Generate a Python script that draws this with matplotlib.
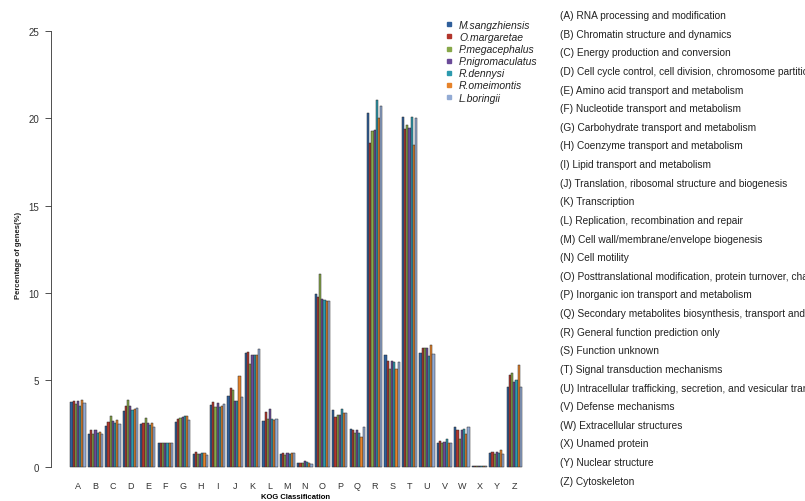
import matplotlib
matplotlib.use("Agg")
import matplotlib.pyplot as plt
from matplotlib.lines import Line2D
import numpy as np

plt.rcParams['font.family'] = ['Liberation Sans', 'DejaVu Sans']

categories = list("ABCDEFGHIJKLMNOPQRSTUVWXYZ")
species = ["M.sangzhiensis", "O.margaretae", "P.megacephalus", "P.nigromaculatus",
           "R.dennysi", "R.omeimontis", "L.boringii"]
colors = ["#2F5F9B", "#B2352C", "#87A849", "#6A4A98", "#2C9AAE", "#E6832A", "#93ABD4"]

# rows = categories A..Z, columns = species in legend order
values = [
    [3.75, 3.80, 3.60, 3.80, 3.50, 3.85, 3.70],  # A
    [1.90, 2.10, 1.90, 2.10, 1.95, 2.00, 1.90],  # B
    [2.35, 2.60, 2.95, 2.65, 2.50, 2.70, 2.45],  # C
    [3.20, 3.50, 3.85, 3.50, 3.25, 3.30, 3.40],  # D
    [2.45, 2.55, 2.80, 2.50, 2.40, 2.55, 2.30],  # E
    [1.40, 1.40, 1.40, 1.40, 1.40, 1.35, 1.40],  # F
    [2.60, 2.75, 2.80, 2.85, 2.90, 2.95, 2.70],  # G
    [0.75, 0.85, 0.75, 0.75, 0.80, 0.80, 0.70],  # H
    [3.55, 3.75, 3.45, 3.65, 3.45, 3.50, 3.60],  # I
    [4.10, 4.55, 4.40, 3.80, 3.80, 5.20, 4.00],  # J
    [6.55, 6.60, 5.90, 6.45, 6.45, 6.40, 6.80],  # K
    [2.65, 3.15, 2.75, 3.30, 2.75, 2.70, 2.75],  # L
    [0.75, 0.80, 0.70, 0.80, 0.75, 0.80, 0.80],  # M
    [0.25, 0.25, 0.25, 0.35, 0.30, 0.25, 0.20],  # N
    [9.90, 9.75, 11.05, 9.65, 9.60, 9.55, 9.55],  # O
    [3.25, 2.85, 3.00, 3.00, 3.30, 3.10, 3.10],  # P
    [2.20, 2.15, 1.95, 2.15, 1.95, 1.75, 2.30],  # Q
    [20.30, 18.60, 19.30, 19.35, 21.05, 20.00, 20.70],  # R
    [6.45, 6.10, 5.60, 6.10, 6.00, 5.60, 6.05],  # S
    [20.10, 19.40, 19.60, 19.45, 20.10, 18.50, 20.00],  # T
    [6.55, 6.85, 6.85, 6.85, 6.35, 7.00, 6.50],  # U
    [1.35, 1.50, 1.40, 1.45, 1.60, 1.35, 1.40],  # V
    [2.30, 2.10, 1.60, 2.10, 2.20, 1.90, 2.30],  # W
    [0.05, 0.05, 0.05, 0.05, 0.05, 0.05, 0.05],  # X
    [0.80, 0.85, 0.75, 0.85, 0.80, 0.95, 0.75],  # Y
    [4.60, 5.30, 5.40, 4.85, 5.00, 5.85, 4.60],  # Z
]

descriptions = [
    "(A) RNA processing and modification",
    "(B) Chromatin structure and dynamics",
    "(C) Energy production and conversion",
    "(D) Cell cycle control, cell division, chromosome partitioning",
    "(E) Amino acid transport and metabolism",
    "(F) Nucleotide transport and metabolism",
    "(G) Carbohydrate transport and metabolism",
    "(H) Coenzyme transport and metabolism",
    "(I) Lipid transport and metabolism",
    "(J) Translation, ribosomal structure and biogenesis",
    "(K) Transcription",
    "(L) Replication, recombination and repair",
    "(M) Cell wall/membrane/envelope biogenesis",
    "(N) Cell motility",
    "(O) Posttranslational modification, protein turnover, chaperones",
    "(P) Inorganic ion transport and metabolism",
    "(Q) Secondary metabolites biosynthesis, transport and catabolism",
    "(R) General function prediction only",
    "(S) Function unknown",
    "(T) Signal transduction mechanisms",
    "(U) Intracellular trafficking, secretion, and vesicular transport",
    "(V) Defense mechanisms",
    "(W) Extracellular structures",
    "(X) Unamed protein",
    "(Y) Nuclear structure",
    "(Z) Cytoskeleton",
]

W, H = 805, 502
fig = plt.figure(figsize=(W / 100, H / 100), dpi=100)
ax = fig.add_axes([51 / W, (H - 478) / H, (540 - 51) / W, (478 - 20) / H])

vals = np.array(values)
n_sp = len(species)
group = np.arange(len(categories)) * (n_sp + 1)  # R-style space=c(0,1)
for j in range(n_sp):
    ax.bar(group + 1 + j + 0.5, vals[:, j], width=1.0, color=colors[j],
           edgecolor="#2a2a2a", linewidth=0.35)

ax.set_xlim(-7.9, 216.3)
ax.set_ylim(-0.574, 25.71)

ax.set_xticks(group + 1 + n_sp / 2)
ax.set_xticklabels(categories, fontsize=6.5, color="#333333")
ax.tick_params(axis="x", length=0, pad=3.2)
ax.set_yticks([0, 5, 10, 15, 20, 25])
ax.tick_params(axis="y", length=4.3, width=0.6, pad=4.3, labelsize=7,
               colors="#333333")

for s in ["top", "right", "bottom"]:
    ax.spines[s].set_visible(False)
ax.spines["left"].set_bounds(0, 25)
ax.spines["left"].set_linewidth(0.6)
ax.spines["left"].set_color("#333333")

ax.set_xlabel("KOG Classification", fontsize=5.5, fontweight="bold", labelpad=2)
fig.text(18 / W, 1 - 255 / H, "Percentage of genes(%)", rotation=90,
         fontsize=5.5, fontweight="bold", ha="center", va="center", color="#222222")

handles = [Line2D([], [], marker="s", linestyle="none", markersize=3,
                  markerfacecolor=c, markeredgecolor=c) for c in colors]
leg = ax.legend(handles, species, loc="upper left",
                bbox_to_anchor=(445 / W, 1 - 21 / H), bbox_transform=fig.transFigure,
                frameon=False, prop={"size": 7.5, "style": "italic"},
                labelspacing=0.2, handlelength=0.8, handletextpad=0.55,
                borderaxespad=0, borderpad=0)
for t in leg.get_texts():
    t.set_color("#222222")

# category descriptions run past the right edge, as in the original figure
for i, d in enumerate(descriptions):
    fig.text(560 / W, 1 - (16 + i * 18.63) / H, d, fontsize=7.3,
             ha="left", va="center", color="#222222")

fig.savefig("out.png", dpi=100)
